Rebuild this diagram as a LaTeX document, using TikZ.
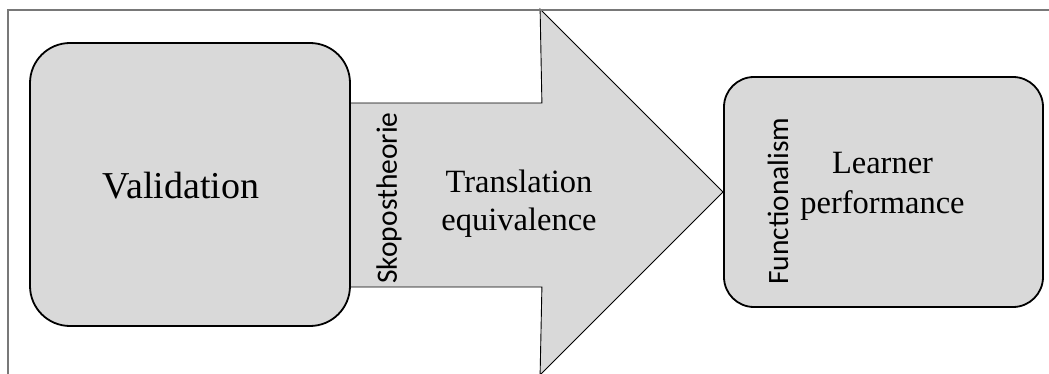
\documentclass[tikz,border=0pt]{standalone}
\usepackage{fontspec}
\setmainfont{Liberation Serif}
\newfontfamily\sidefont{Carlito}
\usetikzlibrary{backgrounds}
\definecolor{boxgray}{RGB}{217,217,217}
\definecolor{framegray}{RGB}{120,120,120}
\begin{document}
\begin{tikzpicture}[x=1pt, y=-1pt, line join=miter,
  box/.style={draw=black, line width=1.8pt, fill=boxgray, inner sep=0pt},
  big/.style={font=\fontsize{32.5}{38}\selectfont, align=center},
  side/.style={font=\sidefont\fontsize{29.5}{34}\selectfont, rotate=90}]
\useasboundingbox (0,0) rectangle (1049,374);
\def\hw{183}
% frame
\draw[framegray, line width=1.1pt] (8,374) |- (1049,10);
% boxes
\node[box, rounded corners=40pt, minimum width=320pt, minimum height=283pt] (valid) at (190,184.5) {};
\node[font=\fontsize{38}{42}\selectfont] (vtext) at (181,186) {Validation};
\node[box, rounded corners=30pt, minimum width=319pt, minimum height=230pt] (learn) at (883.5,192) {};
\node[big, align=center] (perf) at (882.5,186) {Learner\\[2pt]performance};
\node[side] (func) at (778,201) {Functionalism};
% arrow
\begin{scope}[on background layer]
\path (valid.east|-0,103) coordinate (a1) ++(191,0) coordinate (a2);
\path (valid.east|-0,287) coordinate (a6) ++(191,0) coordinate (a5);
\path (learn.west) coordinate (tip) ++(-\hw,-\hw) coordinate (a3) (tip) ++(-\hw,\hw) coordinate (a4);
\draw[fill=boxgray, line width=0.9pt] (a1)--(a2)--(a3)--(tip)--(a4)--(a5)--(a6);
\end{scope}
\node[side] (skop) at (389,198) {Skopostheorie};
\node[big] (trans) at (519,204) {Translation\\equivalence};
\end{tikzpicture}
\end{document}
